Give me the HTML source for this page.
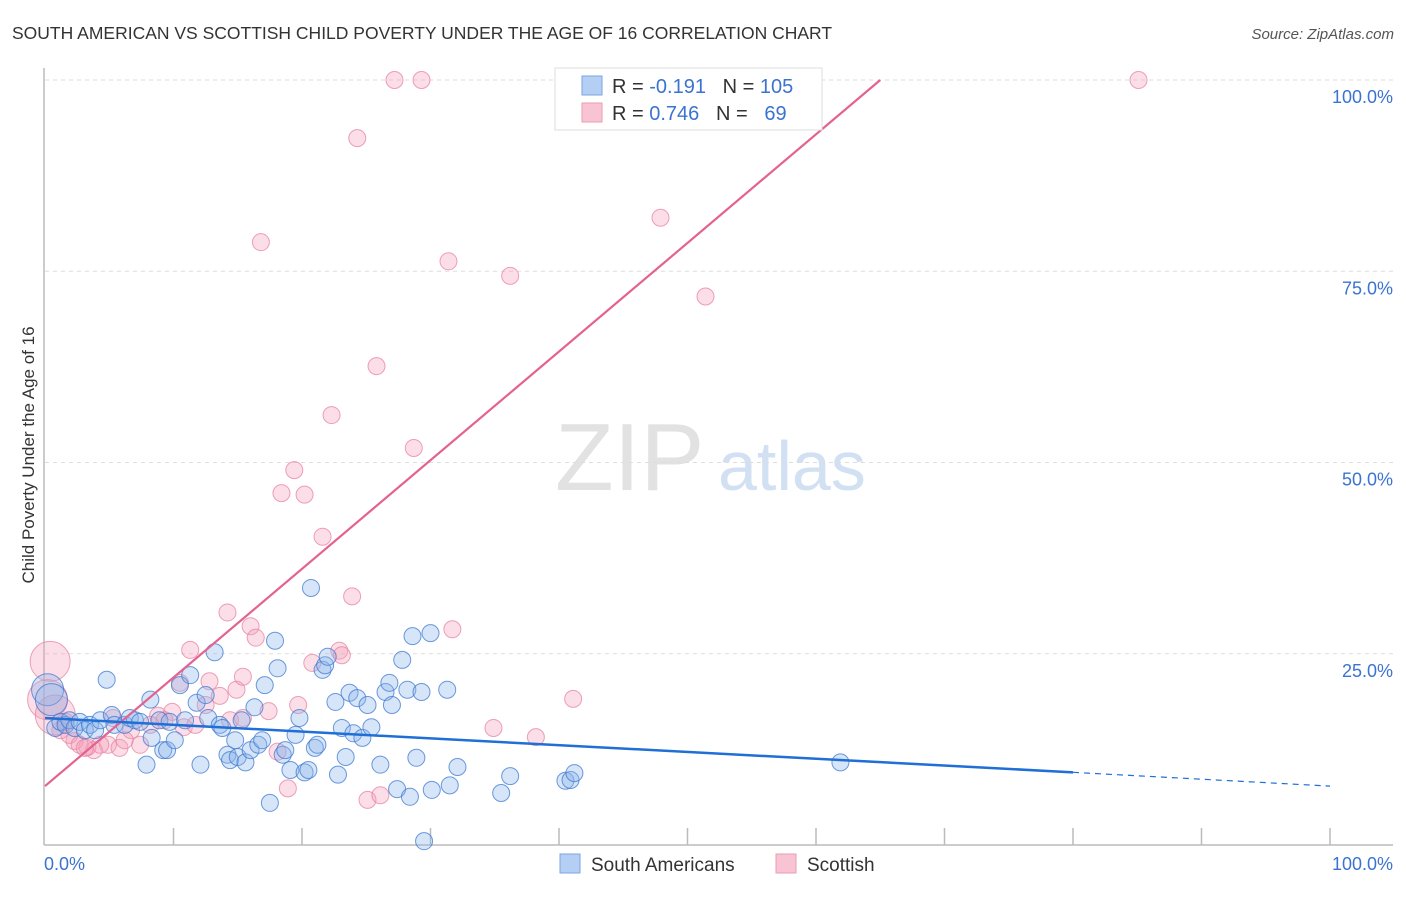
<!DOCTYPE html>
<html><head><meta charset="utf-8"><style>
body{margin:0;background:#fff;font-family:"Liberation Sans",sans-serif;}
svg text{font-family:"Liberation Sans",sans-serif;}
</style></head><body>
<svg id="chart" width="1406" height="892">
<text x="12" y="39" font-size="17.5" fill="#333">SOUTH AMERICAN VS SCOTTISH CHILD POVERTY UNDER THE AGE OF 16 CORRELATION CHART</text>
<text x="1394" y="39" font-size="15" fill="#555" font-style="italic" text-anchor="end">Source: ZipAtlas.com</text>
<text x="555" y="490" font-size="96" fill="#e2e2e2" font-family="Liberation Serif">ZIP</text>
<text x="718" y="490" font-size="70" fill="#d2e0f3">atlas</text>
<text transform="translate(34,455) rotate(-90)" font-size="17" fill="#333" text-anchor="middle">Child Poverty Under the Age of 16</text>
<g id="grid"></g><g id="marks"></g>
<g>
<rect x="555" y="68" width="267" height="62" fill="#fff" stroke="#ddd"/>
<rect x="582" y="76" width="20" height="19" fill="#b4cff3" stroke="#7ba5e3"/>
<rect x="582" y="103" width="20" height="19" fill="#f8c4d4" stroke="#eb9bb5"/>
<text x="612" y="93" font-size="20" fill="#333">R = <tspan fill="#3b73d0">-0.191</tspan>&#160;&#160;&#160;N = <tspan fill="#3b73d0">105</tspan></text>
<text x="612" y="120" font-size="20" fill="#333">R = <tspan fill="#3b73d0"> 0.746</tspan>&#160;&#160;&#160;N = <tspan fill="#3b73d0">&#160;&#160;69</tspan></text>
</g>
<g>
<rect x="560" y="854" width="20" height="19" fill="#b4cff3" stroke="#7ba5e3"/>
<text x="591" y="871" font-size="19" fill="#333">South Americans</text>
<rect x="776" y="854" width="20" height="19" fill="#f8c4d4" stroke="#eb9bb5"/>
<text x="807" y="871" font-size="19" fill="#333">Scottish</text>
</g>
<text x="44" y="870" font-size="18" fill="#3b73d0">0.0%</text>
<text x="1393" y="870" font-size="18" fill="#3b73d0" text-anchor="end">100.0%</text>
</svg>
<script>
const yTicks=[100,75,50,25];
const yTickLabels=["100.0%","75.0%","50.0%","25.0%"];
const blueX=[0.2,0.5,0.8,1.2,1.6,1.9,2.3,2.7,3.1,3.5,3.9,4.3,4.8,5.2,5.4,6.2,6.6,7.0,7.4,7.9,8.2,8.3,8.9,9.2,9.5,9.7,10.1,10.5,10.9,11.3,11.8,12.1,12.5,12.7,13.2,13.6,13.8,14.2,14.4,14.8,15.0,15.3,15.6,16.0,16.3,16.6,16.9,17.1,17.5,17.9,18.1,18.5,18.7,19.1,19.5,19.8,20.2,20.5,20.7,21.0,21.2,21.6,21.8,22.0,22.6,22.8,23.1,23.4,23.7,24.0,24.3,24.7,25.1,25.4,26.1,26.5,26.8,27.0,27.4,27.8,28.2,28.4,28.6,28.9,29.3,30.0,30.1,29.5,31.3,31.5,32.1,35.5,36.2,40.5,40.9,41.2,61.9];
const blueY=[20.3,19.0,15.3,16.1,15.7,16.3,15.3,16.1,15.0,15.7,15.0,16.3,21.6,17.0,15.7,15.7,16.6,16.3,16.1,10.5,19.0,14.0,16.3,12.4,12.4,16.1,13.7,20.9,16.3,22.2,18.6,10.5,19.6,16.6,25.2,15.7,15.3,11.8,11.1,13.7,11.5,16.3,10.8,12.4,18.0,13.1,13.7,20.9,5.5,26.7,23.1,11.8,12.4,9.8,14.4,16.6,9.5,9.8,33.6,12.7,13.1,22.9,23.5,24.6,18.7,9.2,15.3,11.5,19.9,14.6,19.2,14.0,18.3,15.4,10.5,20.0,21.2,18.3,7.3,24.2,20.3,6.3,27.3,11.4,20.0,27.7,7.2,0.5,20.3,7.8,10.2,6.8,9.0,8.4,8.5,9.4,10.8];
const pinkX=[27.2,29.3,85.1,24.3,16.8,47.9,31.4,36.2,51.4,25.8,22.3,28.7,19.4,18.4,20.2,21.6,23.9,14.2,31.7,16.0,16.4,22.9,23.1,11.3,20.8,12.8,14.9,19.7,10.5,15.4,41.1,13.6,17.4,9.9,34.9,38.2,8.8,10.8,6.7,7.4,4.9,5.8,3.8,3.3,2.3,1.9,1.2,0.4,0.2,0.8,1.6,4.3,18.9,25.1,26.1,18.1,11.7,9.3,8.2,6.2,2.7,3.1,5.3,14.4,15.4,12.5];
const pinkY=[100,100,100,92.4,78.8,82.0,76.3,74.4,71.7,62.6,56.2,51.9,49.0,46.0,45.8,40.3,32.5,30.4,28.2,28.6,27.1,25.4,24.8,25.5,23.8,21.4,20.3,18.3,21.2,22.0,19.1,19.5,17.5,17.4,15.3,14.1,16.9,15.4,15.0,13.1,13.1,12.7,12.4,12.8,13.6,14.4,15.0,24.0,19.0,17.0,16.1,13.1,7.4,5.9,6.5,12.2,15.7,16.3,15.7,13.7,13.1,12.7,16.6,16.3,16.6,18.3];
const bigPink=[47,48,49];
const bigBlue=[0,1];
const NS='http://www.w3.org/2000/svg';
const X0=45,X1=1330,Y0=845,Y1=80;
const sx=v=>X0+(X1-X0)*v/100, sy=v=>Y0-(Y0-Y1)*v/100;
const grid=document.getElementById('grid'), marks=document.getElementById('marks');
function mk(tag,attrs,parent){const e=document.createElementNS(NS,tag);for(const k in attrs)e.setAttribute(k,attrs[k]);parent.appendChild(e);return e;}
yTicks.forEach((t,i)=>{
  const l=mk('line',{x1:45,x2:1393,y1:sy(t),y2:sy(t),stroke:'#ddd','stroke-dasharray':'4,4'},grid);
  
  
  const tx=mk('text',{x:1393,y:sy(t)+23,'font-size':18,fill:'#3b73d0','text-anchor':'end'},grid);
  tx.textContent=yTickLabels[i];
  
  
});
const ax=mk('line',{x1:44,x2:1393,y1:845,y2:845,stroke:'#bbb','stroke-width':1.5},grid);


const ay=mk('line',{x1:44,x2:44,y1:68,y2:845,stroke:'#bbb','stroke-width':1.5},grid);


for(let i=1;i<=10;i++){const t=mk('line',{x1:sx(i*10),x2:sx(i*10),y1:828,y2:845,stroke:'#bbb','stroke-width':1.5},grid);

}
pinkX.forEach((x,i)=>{const c=mk('circle',{cx:sx(x),cy:sy(pinkY[i]),r:bigPink.includes(i)?20:8.5,fill:'rgba(244,160,186,0.35)',stroke:'rgba(232,130,160,0.75)','stroke-width':1},marks);

});
blueX.forEach((x,i)=>{const c=mk('circle',{cx:sx(x),cy:sy(blueY[i]),r:bigBlue.includes(i)?16:8.5,fill:'rgba(140,180,235,0.35)',stroke:'rgba(60,120,210,0.75)','stroke-width':1},marks);

});
const pinkTrend=[0,7.7,65,100];
const blueTrend=[0,16.6,80,9.5,100,7.7];
const pl=mk('line',{x1:sx(pinkTrend[0]),y1:sy(pinkTrend[1]),x2:sx(pinkTrend[2]),y2:sy(pinkTrend[3]),stroke:'#e4628f','stroke-width':2.2},marks);


const bl=mk('line',{x1:sx(blueTrend[0]),y1:sy(blueTrend[1]),x2:sx(blueTrend[2]),y2:sy(blueTrend[3]),stroke:'#1f6fd6','stroke-width':2.5},marks);


const bd=mk('line',{x1:sx(blueTrend[2]),y1:sy(blueTrend[3]),x2:sx(blueTrend[4]),y2:sy(blueTrend[5]),stroke:'#1f6fd6','stroke-width':1.2,'stroke-dasharray':'6,5'},marks);


</script>
</body></html>
